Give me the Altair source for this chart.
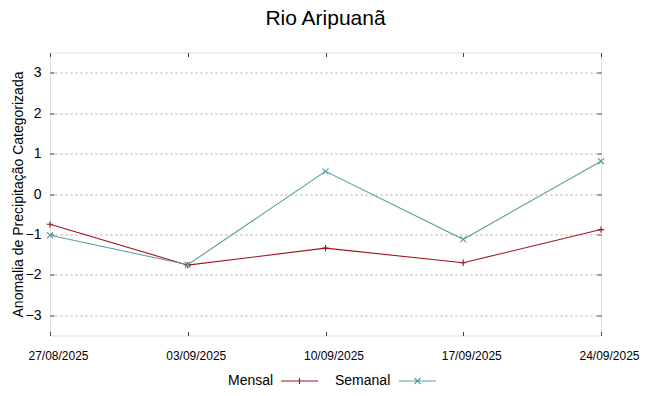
import altair as alt
import pandas as pd

titulo = "Rio Aripuanã"
datas = ["27/08/2025", "03/09/2025", "10/09/2025", "17/09/2025", "24/09/2025"]
mensal = [-0.75, -1.76, -1.34, -1.70, -0.88]
semanal = [-1.02, -1.75, 0.56, -1.12, 0.81]
series = ["Mensal", "Semanal"]
cores = ["#a0141e", "#5f9ea0"]
y_ticks = [-3, -2, -1, 0, 1, 2, 3]

rows = []
for d, v in zip(datas, mensal):
    rows.append({"data": d, "valor": v, "serie": "Mensal"})
for d, v in zip(datas, semanal):
    rows.append({"data": d, "valor": v, "serie": "Semanal"})
df = pd.DataFrame(rows)

FONT = "Liberation Sans"
xscale = alt.Scale(type="point", padding=0, domain=datas)
yscale = alt.Scale(domain=[-3.5, 3.5], nice=False, zero=False)
cscale = alt.Scale(domain=series, range=cores)

leg = alt.Legend(orient="none", legendX=164, legendY=321.5, direction="horizontal", title=None,
                 labelFont=FONT, labelFontSize=14, labelColor="#000", symbolSize=4,
                 symbolStrokeWidth=1.1, symbolOpacity=1, labelOffset=0, columnPadding=0,
                 padding=0, symbolType="circle")
shape_scale = alt.Scale(domain=series, range=[
    "M60,0H97M78.5,-3V3",
    "M71,0H108M86.5,-3L92.5,3M86.5,3L92.5,-3",
])

base = alt.Chart(df)

lines = base.mark_line(strokeWidth=1.1).encode(
    x=alt.X("data:O", sort=datas, scale=xscale,
            axis=alt.Axis(orient="bottom", title=None, labelAngle=0, labelFontSize=12,
                          labelFont=FONT, labelColor="#000", offset=-4, tickSize=4,
                          tickColor="#444", domain=False, grid=False, labelPadding=15,
                          labelOffset=8)),
    y=alt.Y("valor:Q", scale=yscale,
            axis=alt.Axis(orient="left", values=y_ticks, title="Anomalia de Precipitação Categorizada",
                          titleFont=FONT, titleFontSize=14, titleFontWeight="normal", titleColor="#000",
                          labelFont=FONT, labelFontSize=14, labelColor="#000", offset=-4, tickSize=4,
                          tickColor="#444", domain=False, grid=True, gridColor="#a8a8a8",
                          gridDash=[2, 3], labelPadding=9, titlePadding=0)),
    color=alt.Color("serie:N", scale=cscale, legend=leg),
)

mirror = base.mark_point(opacity=0).encode(
    x=alt.X("data:O", sort=datas, scale=xscale,
            axis=alt.Axis(orient="top", title=None, labels=False, offset=-4, tickSize=4,
                          tickColor="#444", domain=False, grid=False)),
    y=alt.Y("valor:Q", scale=yscale,
            axis=alt.Axis(orient="right", values=y_ticks, title=None, labels=False, offset=-4,
                          tickSize=4, tickColor="#444", domain=False, grid=False)),
)

pts_m = base.transform_filter(alt.datum.serie == "Mensal").mark_point(
    shape="M-1,0H1M0,-1V1", size=40, filled=False, strokeWidth=1.1, opacity=1,
    color=cores[0]
).encode(
    x=alt.X("data:O", sort=datas, scale=xscale, axis=None),
    y=alt.Y("valor:Q", scale=yscale, axis=None),
)

pts_s = base.transform_filter(alt.datum.serie == "Semanal").mark_point(
    shape="M-1,-1L1,1M-1,1L1,-1", size=36, filled=False, strokeWidth=1.1, opacity=1,
    color=cores[1]
).encode(
    x=alt.X("data:O", sort=datas, scale=xscale, axis=None),
    y=alt.Y("valor:Q", scale=yscale, axis=None),
)

legend_layer = base.mark_point(filled=False, opacity=0).encode(
    x=alt.X("data:O", sort=datas, scale=xscale, axis=None),
    y=alt.Y("valor:Q", scale=yscale, axis=None),
    color=alt.Color("serie:N", scale=cscale, legend=leg),
    shape=alt.Shape("serie:N", scale=shape_scale, legend=leg),
)

chart = alt.layer(lines, mirror, pts_m, pts_s, legend_layer).resolve_axis(
    x="independent", y="independent"
).properties(
    width=551, height=283,
    title=alt.Title(titulo, font=FONT, fontSize=21, fontWeight="normal", color="#000",
                    baseline="alphabetic", offset=6.5, anchor="middle"),
    autosize=alt.AutoSizeParams(type="none"),
    padding={"left": 42, "top": 44.5, "right": 40, "bottom": 52.5},
).configure_view(stroke="#555", strokeWidth=1.1).configure(background="white")

chart.save("out.html", embed_options={"renderer": "svg", "actions": False})
